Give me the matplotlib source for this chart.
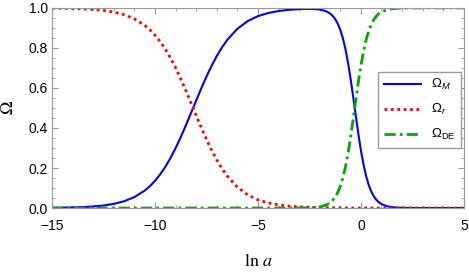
import numpy as np
import matplotlib.pyplot as plt
from matplotlib.ticker import MultipleLocator

# values
lna = [-15, -14, -13.5, -13, -12.5, -12, -11.5, -11, -10.5, -10.25, -10, -9.75, -9.5,
       -9.25, -9, -8.75, -8.5, -8.25, -8, -7.75, -7.5, -7.25, -7, -6.75, -6.5, -6,
       -5.5, -5, -4.5, -4, -3.5, -3, -2.5, -2.25, -2, -1.75, -1.625, -1.5, -1.375,
       -1.25, -1.125, -1, -0.875, -0.75, -0.625, -0.5, -0.375, -0.25, -0.125, 0,
       0.125, 0.25, 0.375, 0.5, 0.625, 0.75, 0.875, 1, 1.25, 1.5, 1.75, 2, 2.5, 3,
       4, 5]
omega_m = [0.0011, 0.0029, 0.0047, 0.0078, 0.0127, 0.0208, 0.0339, 0.0547, 0.087,
           0.1091, 0.1359, 0.168, 0.2059, 0.2497, 0.2994, 0.3544, 0.4134, 0.475,
           0.5374, 0.5987, 0.657, 0.711, 0.7595, 0.8022, 0.839, 0.8957, 0.934,
           0.9589, 0.9747, 0.9844, 0.9905, 0.9939, 0.9952, 0.9944, 0.9918, 0.9856,
           0.9801, 0.9722, 0.9608, 0.9445, 0.9217, 0.8903, 0.8483, 0.7938, 0.7258,
           0.6455, 0.5559, 0.4625, 0.3717, 0.289, 0.2184, 0.1611, 0.1166, 0.0832,
           0.0587, 0.0411, 0.0286, 0.0198, 0.0095, 0.0045, 0.0021, 0.001, 0.0002,
           0.0001, 0.0, 0.0]
omega_r = [0.9989, 0.9971, 0.9953, 0.9922, 0.9873, 0.979, 0.966, 0.945, 0.913,
           0.8909, 0.864, 0.832, 0.794, 0.7503, 0.701, 0.6456, 0.587, 0.525, 0.463,
           0.4013, 0.343, 0.289, 0.2405, 0.1978, 0.161, 0.1043, 0.066, 0.0411,
           0.0253, 0.0156, 0.0095, 0.0058, 0.0035, 0.0027, 0.0021, 0.0016, 0.0015,
           0.0013, 0.0011, 0.0009, 0.0008, 0.0007, 0.0006, 0.0005, 0.0004, 0.0003,
           0.0002, 0.0002, 0.0001, 0.0001, 0.0, 0.0, 0.0, 0.0, 0.0, 0.0, 0.0, 0.0,
           0.0, 0.0, 0.0, 0.0, 0.0, 0.0, 0.0, 0.0]
omega_de = [0.0, 0.0, 0.0, 0.0, 0.0, 0.0, 0.0, 0.0, 0.0, 0.0, 0.0, 0.0, 0.0, 0.0,
            0.0, 0.0, 0.0, 0.0, 0.0, 0.0, 0.0, 0.0, 0.0, 0.0, 0.0, 0.0, 0.0, 0.0,
            0.0, 0.0, 0.0001, 0.0003, 0.0014, 0.0029, 0.0061, 0.0127, 0.0184,
            0.0265, 0.0381, 0.0546, 0.0776, 0.109, 0.1512, 0.2057, 0.2738, 0.3542,
            0.4439, 0.5373, 0.6283, 0.7109, 0.7816, 0.8389, 0.8834, 0.9168, 0.9413,
            0.9589, 0.9714, 0.9802, 0.9905, 0.9955, 0.9979, 0.999, 0.9998, 0.9999,
            1.0, 1.0]

plt.rcParams['font.family'] = ['Liberation Sans', 'DejaVu Sans']
plt.rcParams['mathtext.fontset'] = 'custom'
plt.rcParams['mathtext.rm'] = 'Liberation Sans'
plt.rcParams['mathtext.it'] = 'Liberation Sans:italic'

fig = plt.figure(figsize=(4.69, 2.73), dpi=100)
ax = fig.add_axes([0.111, 0.238, 0.878, 0.733])

ax.plot(lna, omega_m, color='#0000ff', lw=1.5, label=r'$\Omega_M$')
ax.plot(lna, omega_r, color='#ff0000', lw=2, ls=(0, (1, 1.3)), label=r'$\Omega_r$')
ax.plot(lna, omega_de, color='#00aa00', lw=2, ls=(0, (4, 1.5, 1, 1.5)),
        label=r'$\Omega_{\mathrm{DE}}$')

ax.set_xlim(-15, 5)
ax.set_ylim(0, 1)
ax.xaxis.set_major_locator(MultipleLocator(5))
ax.xaxis.set_minor_locator(MultipleLocator(1))
ax.yaxis.set_major_locator(MultipleLocator(0.2))
ax.yaxis.set_minor_locator(MultipleLocator(0.05))
ax.yaxis.set_major_formatter(plt.FuncFormatter(lambda v, p: f'{v:.1f}'))
ax.tick_params(which='both', direction='in', top=True, right=True,
               color='#999999', labelsize=10, labelcolor='black')
ax.tick_params(which='major', length=4)
ax.tick_params(which='minor', length=2)
ax.tick_params(axis='x', pad=8)
ax.tick_params(axis='y', pad=3)
for s in ax.spines.values():
    s.set_color('#999999')

ax.set_xlabel(r'$\ln\,a$', fontsize=13, math_fontfamily='stix', labelpad=14)
ax.set_ylabel(r'$\Omega$', fontsize=13, math_fontfamily='stix', labelpad=8)

leg = ax.legend(loc='upper right', bbox_to_anchor=(0.993, 0.68), borderaxespad=0,
                fancybox=False, edgecolor='#999999', fontsize=9.5, handlelength=2.8,
                labelspacing=0.75, framealpha=1)
leg.get_frame().set_linewidth(1.0)

fig.savefig('out.png', dpi=100)
